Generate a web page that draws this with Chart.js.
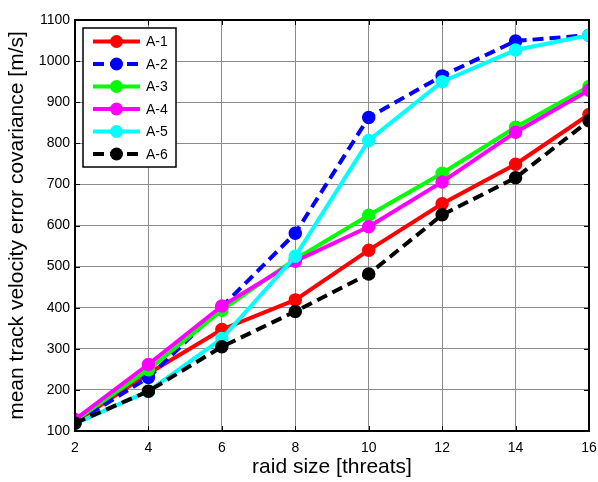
<!DOCTYPE html>
<html>
<head>
<meta charset="utf-8">
<script src="https://cdn.jsdelivr.net/npm/chart.js@4/dist/chart.umd.min.js"></script>
<style>
  html, body { margin: 0; padding: 0; background: #fff; }
  #wrap { width: 598px; height: 482px; }
</style>
</head>
<body>
<div id="wrap"><canvas id="chart"></canvas></div>
<script>
// raid sizes (x axis)
const raidSizes = [2, 4, 6, 8, 10, 12, 14, 16];

// mean track velocity error covariance per configuration [m/s]
const a1 = [121, 240, 347, 419, 540, 653, 749, 870];
const a2 = [120, 230, 402, 581, 863, 964, 1049, 1063];
const a3 = [125, 249, 394, 518, 625, 727, 839, 938];
const a4 = [128, 262, 404, 513, 597, 706, 827, 929];
const a5 = [118, 197, 325, 525, 807, 950, 1027, 1063];
const a6 = [119, 197, 305, 391, 482, 626, 716, 855];

const seriesNames = ["A-1", "A-2", "A-3", "A-4", "A-5", "A-6"];
const seriesValues = [a1, a2, a3, a4, a5, a6];
const seriesColors = ["#ff0000", "#0000ff", "#00ff00", "#ff00ff", "#00ffff", "#000000"];
const seriesDashed = [false, true, false, false, false, true];

const yTicks = [100, 200, 300, 400, 500, 600, 700, 800, 900, 1000, 1100];
const xTicks = raidSizes;

const DASH = [11, 6];
const GRID = "#8c8c8c";

const datasets = seriesNames.map((name, i) => ({
  label: name,
  data: raidSizes.map((x, j) => ({ x: x, y: seriesValues[i][j] })),
  borderColor: seriesColors[i],
  backgroundColor: seriesColors[i],
  pointBackgroundColor: seriesColors[i],
  pointBorderColor: seriesColors[i],
  borderWidth: 4,
  borderDash: seriesDashed[i] ? DASH : [],
  pointRadius: 6,
  pointBorderWidth: 1.5,
  pointHoverRadius: 6,
  tension: 0,
  fill: false,
  // later series sit on top
  order: seriesNames.length - i,
}));

// box around the plot with small inward tick marks
const framePlugin = {
  id: "frame",
  afterDraw(chart) {
    const { ctx, chartArea: a, scales } = chart;
    ctx.save();
    ctx.strokeStyle = "#000";
    ctx.lineWidth = 1;
    const tl = 5;
    ctx.beginPath();
    xTicks.forEach((v) => {
      const px = Math.round(scales.x.getPixelForValue(v)) + 0.5;
      ctx.moveTo(px, a.bottom);
      ctx.lineTo(px, a.bottom - tl);
      ctx.moveTo(px, a.top);
      ctx.lineTo(px, a.top + tl);
    });
    yTicks.forEach((v) => {
      const py = Math.round(scales.y.getPixelForValue(v)) + 0.5;
      ctx.moveTo(a.left, py);
      ctx.lineTo(a.left + tl, py);
      ctx.moveTo(a.right, py);
      ctx.lineTo(a.right - tl, py);
    });
    ctx.stroke();
    ctx.lineWidth = 2;
    ctx.strokeRect(a.left, a.top, a.right - a.left, a.bottom - a.top);
    ctx.restore();
  },
};

// legend box inside the upper-left corner of the plot
const legendPlugin = {
  id: "boxLegend",
  afterDraw(chart) {
    const { ctx, chartArea: a } = chart;
    const left = a.left + 8, top = a.top + 8;
    const w = 93, h = 139, rowH = 22.5;
    ctx.save();
    ctx.fillStyle = "#fff";
    ctx.fillRect(left, top, w, h);
    ctx.strokeStyle = "#000";
    ctx.lineWidth = 1.5;
    ctx.strokeRect(left, top, w, h);
    ctx.font = "14px 'Liberation Sans', Arial, sans-serif";
    ctx.textBaseline = "middle";
    chart.data.datasets.forEach((ds, i) => {
      const y = top + 13.5 + i * rowH;
      const x0 = left + 10, x1 = left + 57, xm = (x0 + x1) / 2;
      ctx.strokeStyle = ds.borderColor;
      ctx.lineWidth = 4;
      ctx.setLineDash(ds.borderDash);
      ctx.beginPath();
      ctx.moveTo(x0, y);
      ctx.lineTo(x1, y);
      ctx.stroke();
      ctx.setLineDash([]);
      ctx.fillStyle = ds.borderColor;
      ctx.beginPath();
      ctx.arc(xm, y, 6.5, 0, Math.PI * 2);
      ctx.fill();
      ctx.fillStyle = "#000";
      ctx.fillText(ds.label, left + 63, y + 1);
    });
    ctx.restore();
  },
};

const tickFont = { family: "'Liberation Sans', Arial, sans-serif", size: 14 };
const titleFont = { family: "'Liberation Sans', Arial, sans-serif", size: 21 };

new Chart(document.getElementById("chart").getContext("2d"), {
  type: "line",
  data: { datasets: datasets },
  plugins: [framePlugin, legendPlugin],
  options: {
    responsive: true,
    maintainAspectRatio: false,
    animation: false,
    layout: { padding: { top: 20, right: 9, left: 0, bottom: 0 } },
    plugins: {
      legend: { display: false },
      tooltip: { enabled: false },
    },
    scales: {
      x: {
        type: "linear",
        min: 2,
        max: 16,
        afterBuildTicks: (scale) => {
          scale.ticks = xTicks.map((v) => ({ value: v }));
        },
        afterFit: (scale) => {
          scale.height = 51;
          // end labels may overhang the plot edges
          scale.paddingLeft = 0;
          scale.paddingRight = 0;
        },
        ticks: {
          color: "#000",
          font: tickFont,
          padding: 9,
          maxRotation: 0,
          callback: (v) => String(v),
        },
        grid: { color: GRID, lineWidth: 1, drawTicks: false },
        border: { display: false },
        title: {
          display: true,
          text: "raid size [threats]",
          color: "#000",
          font: titleFont,
          padding: { top: 0, bottom: 2 },
        },
      },
      y: {
        type: "linear",
        min: 100,
        max: 1100,
        afterBuildTicks: (scale) => {
          scale.ticks = yTicks.map((v) => ({ value: v }));
        },
        afterFit: (scale) => {
          scale.width = 75;
          scale.paddingTop = 0;
          scale.paddingBottom = 0;
        },
        ticks: {
          color: "#000",
          font: tickFont,
          padding: 5,
          callback: (v) => String(v),
        },
        grid: { color: GRID, lineWidth: 1, drawTicks: false },
        border: { display: false },
        title: {
          display: true,
          text: "mean track velocity error covariance [m/s]",
          color: "#000",
          font: titleFont,
          padding: { top: 5, bottom: 0 },
        },
      },
    },
  },
});
</script>
</body>
</html>
